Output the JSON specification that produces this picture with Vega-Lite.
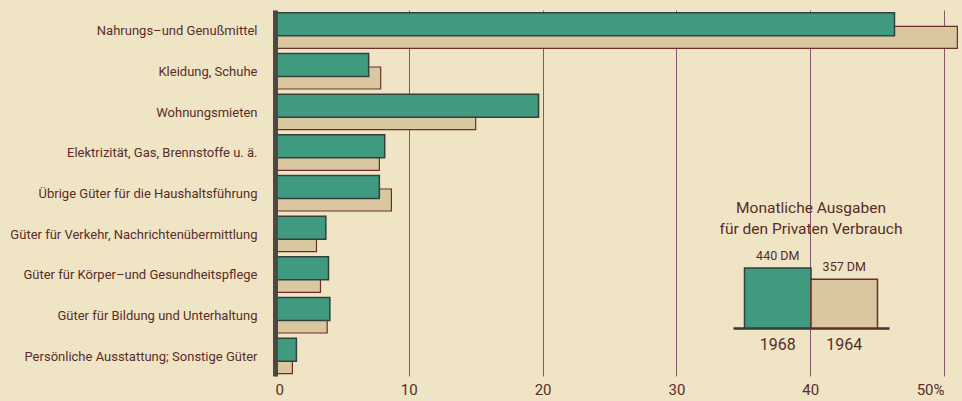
{
  "$schema": "https://vega.github.io/schema/vega-lite/v6.json",
  "width": 669,
  "height": 366,
  "autosize": "none",
  "padding": {"left": 275, "top": 10, "right": 18, "bottom": 25},
  "background": "#efe5c5",
  "config": {
    "view": {"stroke": null},
    "font": "Liberation Sans Narrow, Roboto, sans-serif"
  },
  "resolve": {"scale": {"x": "independent", "y": "independent"}, "axis": {"x": "independent", "y": "independent"}},
  "layer": [
    {
      "data": {
        "values": [
          {"category": "Nahrungs–und Genußmittel", "year": "1968", "value": 46.3},
          {"category": "Nahrungs–und Genußmittel", "year": "1964", "value": 51.0},
          {"category": "Kleidung, Schuhe", "year": "1968", "value": 7.0},
          {"category": "Kleidung, Schuhe", "year": "1964", "value": 7.9},
          {"category": "Wohnungsmieten", "year": "1968", "value": 19.7},
          {"category": "Wohnungsmieten", "year": "1964", "value": 15.0},
          {"category": "Elektrizität, Gas, Brennstoffe u. ä.", "year": "1968", "value": 8.2},
          {"category": "Elektrizität, Gas, Brennstoffe u. ä.", "year": "1964", "value": 7.8},
          {"category": "Übrige Güter für die Haushaltsführung", "year": "1968", "value": 7.8},
          {"category": "Übrige Güter für die Haushaltsführung", "year": "1964", "value": 8.7},
          {"category": "Güter für Verkehr, Nachrichtenübermittlung", "year": "1968", "value": 3.8},
          {"category": "Güter für Verkehr, Nachrichtenübermittlung", "year": "1964", "value": 3.1},
          {"category": "Güter für Körper–und Gesundheitspflege", "year": "1968", "value": 4.0},
          {"category": "Güter für Körper–und Gesundheitspflege", "year": "1964", "value": 3.4},
          {"category": "Güter für Bildung und Unterhaltung", "year": "1968", "value": 4.1},
          {"category": "Güter für Bildung und Unterhaltung", "year": "1964", "value": 3.9},
          {"category": "Persönliche Ausstattung; Sonstige Güter", "year": "1968", "value": 1.6},
          {"category": "Persönliche Ausstattung; Sonstige Güter", "year": "1964", "value": 1.3}
        ]
      },
      "encoding": {
        "y": {
          "field": "category",
          "type": "nominal",
          "sort": ["Nahrungs–und Genußmittel", "Kleidung, Schuhe", "Wohnungsmieten", "Elektrizität, Gas, Brennstoffe u. ä.", "Übrige Güter für die Haushaltsführung", "Güter für Verkehr, Nachrichtenübermittlung", "Güter für Körper–und Gesundheitspflege", "Güter für Bildung und Unterhaltung", "Persönliche Ausstattung; Sonstige Güter"],
          "scale": {"paddingInner": 0, "paddingOuter": 0},
          "axis": {
            "orient": "left",
            "title": null,
            "ticks": false,
            "domain": true,
            "domainColor": "#4b4846",
            "domainWidth": 5,
            "zindex": 1,
            "labelPadding": 18,
            "labelFontSize": 13,
            "labelColor": "#5a2c2a",
            "labelLimit": 300,
            "labelOffset": 1
          }
        },
        "x": {
          "field": "value",
          "type": "quantitative",
          "scale": {"domain": [0, 50], "nice": false},
          "axis": {
            "orient": "bottom",
            "title": null,
            "values": [0, 10, 20, 30, 40, 50],
            "grid": true,
            "gridColor": "#7a4660",
            "gridWidth": 1,
            "gridOpacity": 0.9,
            "ticks": false,
            "domain": false,
            "labelPadding": 6,
            "labelFontSize": 15,
            "labelColor": "#5a2c2a",
            "labelExpr": "datum.value == 50 ? '50%' : datum.label"
          }
        }
      },
      "layer": [
        {
          "transform": [{"filter": "datum.year == '1964'"}],
          "mark": {"type": "bar", "height": 22, "yOffset": 7, "fill": "#d9c7a0", "stroke": "#6b2e28", "strokeWidth": 1.2, "clip": false}
        },
        {
          "transform": [{"filter": "datum.year == '1968'"}],
          "mark": {"type": "bar", "height": 23, "yOffset": -6, "fill": "#3f9a80", "stroke": "#35403c", "strokeWidth": 1.5, "clip": false}
        }
      ]
    },
    {
      "data": {
        "values": [
          {"year": "1968", "amount": 440, "label": "440 DM"},
          {"year": "1964", "amount": 357, "label": "357 DM"}
        ]
      },
      "encoding": {
        "x": {
          "field": "year",
          "type": "nominal",
          "sort": ["1968", "1964"],
          "scale": {"domain": ["1968", "1964"], "range": [458, 614], "paddingInner": 0, "paddingOuter": 0.173},
          "axis": {
            "orient": "bottom",
            "offset": -48,
            "title": null,
            "grid": false,
            "ticks": false,
            "domainColor": "#3d3533",
            "domainWidth": 2.5,
            "labelAngle": 0,
            "labelFontSize": 16,
            "labelColor": "#5a2c2a",
            "labelPadding": 8
          }
        },
        "y": {
          "field": "amount",
          "type": "quantitative",
          "scale": {"domain": [0, 440], "range": [318, 258], "nice": false, "zero": true},
          "axis": null
        }
      },
      "layer": [
        {
          "mark": {"type": "bar", "strokeWidth": 1.5},
          "encoding": {
            "fill": {"field": "year", "type": "nominal", "scale": {"domain": ["1968", "1964"], "range": ["#3f9a80", "#d9c7a0"]}, "legend": null},
            "stroke": {"field": "year", "type": "nominal", "scale": {"domain": ["1968", "1964"], "range": ["#35403c", "#6b2e28"]}, "legend": null}
          }
        },
        {
          "mark": {"type": "text", "baseline": "middle", "dy": -12, "fontSize": 12.5, "color": "#5a2c2a"},
          "encoding": {"text": {"field": "label"}}
        },
        {
          "data": {"values": [{"year": "1968", "amount": 440, "t": "Monatliche Ausgaben\nfür den Privaten Verbrauch"}]},
          "mark": {"type": "text", "lineBreak": "\n", "baseline": "bottom", "dy": -52, "fontSize": 15.5, "lineHeight": 21, "color": "#5a2c2a"},
          "encoding": {
            "x": {"field": "year", "type": "nominal", "sort": ["1968", "1964"], "bandPosition": 1},
            "text": {"field": "t"}
          }
        }
      ]
    }
  ]
}
